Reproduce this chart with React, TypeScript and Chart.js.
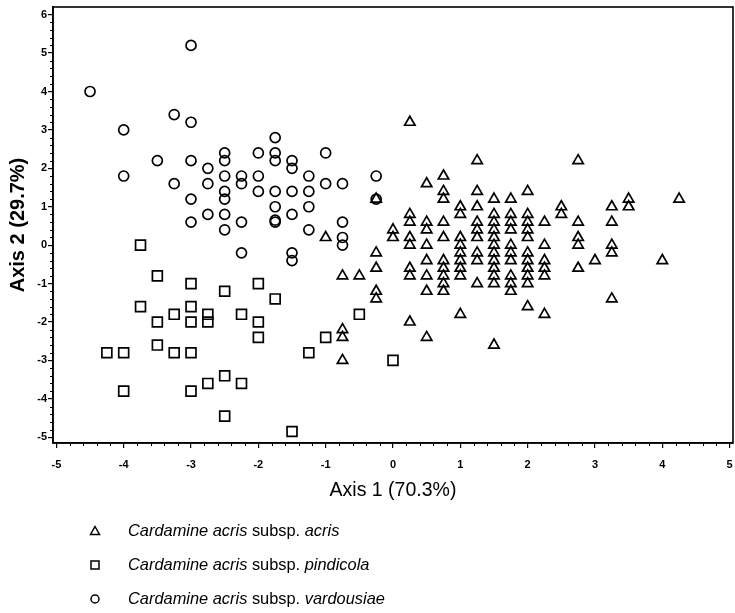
import React, { useEffect, useRef } from 'react';
import { Chart, registerables } from 'chart.js';

Chart.register(...registerables);

// Cardamine acris subsp. acris (triangles)
const acrisPoints: [number, number][] = [
  [-1, 0.2], [-0.75, -0.8], [-0.75, -2.2], [-0.75, -2.4], [-0.75, -3.0], [-0.5, -0.8],
  [-0.25, 1.2], [-0.25, -0.2], [-0.25, -0.6], [-0.25, -1.2], [-0.25, -1.4],
  [0, 0.4], [0, 0.2],
  [0.25, 3.2], [0.25, 0.8], [0.25, 0.6], [0.25, 0.2], [0.25, 0], [0.25, -0.6], [0.25, -0.8], [0.25, -2.0],
  [0.5, 1.6], [0.5, 0.6], [0.5, 0.4], [0.5, 0], [0.5, -0.4], [0.5, -0.8], [0.5, -1.2], [0.5, -2.4],
  [0.75, 1.8], [0.75, 1.4], [0.75, 1.2], [0.75, 0.6], [0.75, 0.2], [0.75, -0.4], [0.75, -0.6], [0.75, -0.8], [0.75, -1.0], [0.75, -1.2],
  [1, 1.0], [1, 0.8], [1, 0.2], [1, 0], [1, -0.2], [1, -0.4], [1, -0.6], [1, -0.8], [1, -1.8],
  [1.25, 2.2], [1.25, 1.4], [1.25, 1.0], [1.25, 0.6], [1.25, 0.4], [1.25, 0.2], [1.25, -0.2], [1.25, -0.4], [1.25, -1.0],
  [1.5, 1.2], [1.5, 0.8], [1.5, 0.6], [1.5, 0.4], [1.5, 0.2], [1.5, 0], [1.5, -0.2], [1.5, -0.4], [1.5, -0.6], [1.5, -0.8], [1.5, -1.0], [1.5, -2.6],
  [1.75, 1.2], [1.75, 0.8], [1.75, 0.6], [1.75, 0.4], [1.75, 0], [1.75, -0.2], [1.75, -0.4], [1.75, -0.8], [1.75, -1.0], [1.75, -1.2],
  [2, 1.4], [2, 0.8], [2, 0.6], [2, 0.4], [2, 0.2], [2, -0.2], [2, -0.4], [2, -0.6], [2, -0.8], [2, -1.0], [2, -1.6],
  [2.25, 0.6], [2.25, 0], [2.25, -0.4], [2.25, -0.6], [2.25, -0.8], [2.25, -1.8],
  [2.5, 1.0], [2.5, 0.8],
  [2.75, 2.2], [2.75, 0.6], [2.75, 0.2], [2.75, 0], [2.75, -0.6],
  [3, -0.4],
  [3.25, 1.0], [3.25, 0.6], [3.25, 0], [3.25, -0.2], [3.25, -1.4],
  [3.5, 1.2], [3.5, 1.0],
  [4, -0.4], [4.25, 1.2],
];

// Cardamine acris subsp. pindicola (squares)
const pindicolaPoints: [number, number][] = [
  [-3.75, 0], [-3.5, -0.8], [-3, -1.0], [-2.5, -1.2], [-2, -1.0], [-1.75, -1.4],
  [-3.75, -1.6], [-3, -1.6], [-3.5, -2.0], [-3.25, -1.8], [-3, -2.0], [-2.75, -1.8], [-2.75, -2.0],
  [-2.25, -1.8], [-2, -2.0], [-2, -2.4], [-4.25, -2.8], [-4, -2.8], [-3.5, -2.6], [-3.25, -2.8],
  [-3, -2.8], [-1.25, -2.8], [-4, -3.8], [-3, -3.8], [-2.75, -3.6], [-2.5, -3.4], [-2.25, -3.6],
  [-2.5, -4.45], [-1.5, -4.85], [-0.5, -1.8], [-1, -2.4], [0, -3.0],
];

// Cardamine acris subsp. vardousiae (circles)
const vardousiaePoints: [number, number][] = [
  [-4.5, 4.0], [-3, 5.2], [-4, 3.0], [-4, 1.8], [-3.25, 3.4], [-3, 3.2], [-3.5, 2.2], [-3, 2.2],
  [-3.25, 1.6], [-3, 1.2], [-3, 0.6], [-2.75, 2.0], [-2.75, 1.6], [-2.75, 0.8],
  [-2.5, 2.4], [-2.5, 2.2], [-2.5, 1.8], [-2.5, 1.4], [-2.5, 1.2], [-2.5, 0.8], [-2.5, 0.4],
  [-2.25, 1.8], [-2.25, 1.6], [-2.25, 0.6], [-2.25, -0.2], [-2, 2.4], [-2, 1.8], [-2, 1.4],
  [-1.75, 2.8], [-1.75, 2.4], [-1.75, 2.2], [-1.75, 1.4], [-1.75, 1.0], [-1.75, 0.6], [-1.75, 0.65],
  [-1.5, 2.2], [-1.5, 2.0], [-1.5, 1.4], [-1.5, 0.8], [-1.5, -0.2], [-1.5, -0.4],
  [-1.25, 1.8], [-1.25, 1.4], [-1.25, 1.0], [-1.25, 0.4], [-1, 2.4], [-1, 1.6],
  [-0.75, 1.6], [-0.75, 0.6], [-0.75, 0.2], [-0.75, 0.0], [-0.25, 1.8], [-0.25, 1.2],
];

const xTickValues = [-5, -4, -3, -2, -1, 0, 1, 2, 3, 4, 5];
const yTickValues = [-5, -4, -3, -2, -1, 0, 1, 2, 3, 4, 5, 6];

const xTitle = 'Axis 1 (70.3%)';
const yTitle = 'Axis 2 (29.7%)';

const legendItems = [
  { style: 'triangle', parts: [['Cardamine acris', true], [' subsp. ', false], ['acris', true]] },
  { style: 'rect', parts: [['Cardamine acris', true], [' subsp. ', false], ['pindicola', true]] },
  { style: 'circle', parts: [['Cardamine acris', true], [' subsp. ', false], ['vardousiae', true]] },
] as { style: string; parts: [string, boolean][] }[];

const FONT = "'Liberation Sans', Arial, sans-serif";

const framePlugin = {
  id: 'frameAndMinor',
  afterDraw(chart: any) {
    const { ctx, chartArea } = chart;
    const xs = chart.scales.x;
    const ys = chart.scales.y;
    ctx.save();
    ctx.strokeStyle = '#000';
    ctx.lineWidth = 1.6;
    ctx.strokeRect(chartArea.left, chartArea.top, chartArea.right - chartArea.left, chartArea.bottom - chartArea.top);
    ctx.lineWidth = 1;
    ctx.beginPath();
    for (let k = -25; k <= 25; k++) {
      if (k % 5 === 0) continue;
      const v = k * 0.2;
      const px = Math.round(xs.getPixelForValue(v)) + 0.5;
      ctx.moveTo(px, chartArea.bottom);
      ctx.lineTo(px, chartArea.bottom + 3);
    }
    for (let k = -25; k <= 30; k++) {
      if (k % 5 === 0) continue;
      const v = k * 0.2;
      const py = Math.round(ys.getPixelForValue(v)) + 0.5;
      ctx.moveTo(chartArea.left, py);
      ctx.lineTo(chartArea.left - 3, py);
    }
    ctx.stroke();

    // legend
    const symX = 95;
    const textX = 128;
    const rows = [531, 565, 599];
    legendItems.forEach((item, i) => {
      const y = rows[i];
      ctx.lineWidth = 1.5;
      ctx.strokeStyle = '#000';
      ctx.beginPath();
      if (item.style === 'triangle') {
        ctx.moveTo(symX, y - 4.5);
        ctx.lineTo(symX + 4.5, y + 3.5);
        ctx.lineTo(symX - 4.5, y + 3.5);
        ctx.closePath();
      } else if (item.style === 'rect') {
        ctx.rect(symX - 4, y - 4, 8, 8);
      } else {
        ctx.arc(symX, y, 4, 0, Math.PI * 2);
      }
      ctx.stroke();
      let x = textX;
      ctx.fillStyle = '#000';
      ctx.textBaseline = 'middle';
      ctx.textAlign = 'left';
      item.parts.forEach(([t, it]) => {
        ctx.font = `${it ? 'italic ' : ''}16.4px ${FONT}`;
        ctx.fillText(t, x, y);
        x += ctx.measureText(t).width;
      });
    });
    ctx.restore();
  },
};

export default function App() {
  const ref = useRef<HTMLCanvasElement>(null);
  useEffect(() => {
    if (!ref.current) return;
    const mk = (pts: [number, number][]) => pts.map(([x, y]) => ({ x, y }));
    const tickFont = { family: FONT, size: 11, weight: 'bold' as const };
    const chart = new Chart(ref.current, {
      type: 'scatter',
      data: {
        datasets: [
          {
            label: 'acris', data: mk(acrisPoints), pointStyle: 'triangle', pointRadius: 6,
            borderColor: '#000', backgroundColor: 'rgba(0,0,0,0)', borderWidth: 1.7,
          },
          {
            label: 'pindicola', data: mk(pindicolaPoints), pointStyle: 'rect', pointRadius: 7,
            borderColor: '#000', backgroundColor: 'rgba(0,0,0,0)', borderWidth: 1.7,
          },
          {
            label: 'vardousiae', data: mk(vardousiaePoints), pointStyle: 'circle', pointRadius: 5,
            borderColor: '#000', backgroundColor: 'rgba(0,0,0,0)', borderWidth: 1.7,
          },
        ] as any,
      },
      options: {
        animation: false,
        responsive: false,
        layout: { autoPadding: false, padding: { left: 0, right: 2, top: 7, bottom: 111 } },
        plugins: { legend: { display: false }, tooltip: { enabled: false } },
        scales: {
          x: {
            type: 'linear', min: -5.05, max: 5.05,
            afterBuildTicks: (s: any) => { s.ticks = xTickValues.map((v) => ({ value: v })); },
            afterFit: (s: any) => { s.height = 59; s.paddingLeft = 0; s.paddingRight = 0; },
            ticks: { font: tickFont, color: '#000', padding: 10, maxRotation: 0, autoSkip: false, includeBounds: false },
            grid: { drawOnChartArea: false, tickLength: 5, color: '#000', lineWidth: 1.2 },
            border: { display: true, color: '#000', width: 1.6 },
            title: { display: true, text: xTitle, color: '#000', font: { family: FONT, size: 19.5 }, padding: 0 },
          },
          y: {
            type: 'linear', min: -5.15, max: 6.2,
            afterBuildTicks: (s: any) => { s.ticks = yTickValues.map((v) => ({ value: v })); },
            afterFit: (s: any) => { s.width = 53; s.paddingTop = 0; s.paddingBottom = 0; },
            ticks: { font: tickFont, color: '#000', padding: 1, autoSkip: false, includeBounds: false },
            grid: { drawOnChartArea: false, tickLength: 5, color: '#000', lineWidth: 1.2 },
            border: { display: true, color: '#000', width: 1.6 },
            title: { display: true, text: yTitle, color: '#000', font: { family: FONT, size: 20, weight: 'bold' }, padding: { top: 6, bottom: 0 } },
          },
        },
      } as any,
      plugins: [framePlugin],
    });
    return () => chart.destroy();
  }, []);
  return (
    <div style={{ position: 'fixed', left: 0, top: 0, width: 735, height: 613, background: '#fff' }}>
      <canvas ref={ref} width={735} height={613} style={{ display: 'block' }} />
    </div>
  );
}
